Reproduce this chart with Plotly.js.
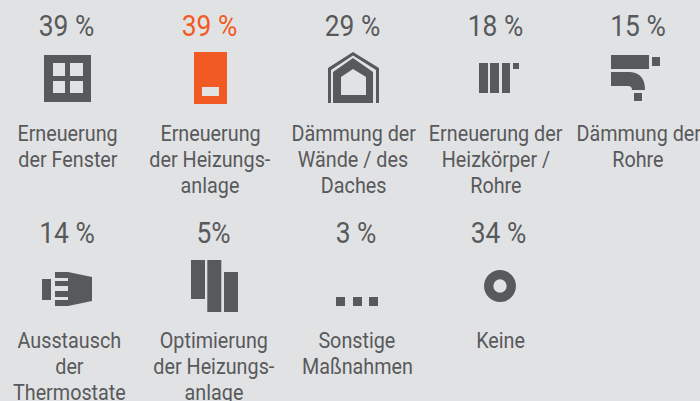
<!DOCTYPE html>
<html><head><meta charset="utf-8">
<script src="https://cdn.plot.ly/plotly-3.0.1.min.js"></script>
<style>html,body{margin:0;padding:0;background:#e1e2e4}</style></head>
<body><div id="chart" style="width:700px;height:401px"></div>
<script>
const categories=["Erneuerung<br>der Fenster","Erneuerung<br>der Heizungs-<br>anlage","Dämmung der<br>Wände / des<br>Daches","Erneuerung der<br>Heizkörper /<br>Rohre","Dämmung der<br>Rohre","Ausstausch<br>der<br>Thermostate","Optimierung<br>der Heizungs-<br>anlage","Sonstige<br>Maßnahmen","Keine"];
const valueLabels=["39 %","39 %","29 %","18 %","15 %","14 %","5%","3 %","34 %"];
const dark="#58595b",orange="#f15a22",bg="#e1e2e4";
const pctX=[66.5,209.5,352.5,495.5,638,67,213.5,356,498.5];
const pctY=[28.5,28.5,28.5,28.5,28.5,236,236,236,236];
const labX=[67.5,210,353,495.5,638,69,214,357,500];
const labY=[133,133,133,133,133,340,340,340,340];
const lineGap=26;
const font="Roboto,sans-serif";
function rect(x0,y0,x1,y1,c){return {type:'rect',xref:'x',yref:'y',x0,y0,x1,y1,fillcolor:c||dark,line:{width:0}};}
function path(d,c){return {type:'path',xref:'x',yref:'y',path:d,fillcolor:c||dark,line:{width:0}};}
const shapes=[
 rect(44,55,91,102),rect(53,63,65,76,bg),rect(70,63,83,76,bg),rect(53,81,65,93,bg),rect(70,81,83,93,bg),
 rect(194,52,227,104,orange),rect(202,87,219,96,bg),
 path("M328 103 L328 68 L353 52 L379 68 L379 103 L376 103 L376 70 L353 55.5 L331 70 L331 103 Z"),
 path("M333 103 L333 72 L353 58 L373 72 L373 103 Z M341 95 L366 95 L366 77 L353 69 L341 77 Z"),
 rect(479,63,488,93),rect(490,63,499,93),rect(502,63,510,93),rect(513,63,519,69),
 rect(611,55,649,69),rect(652,57,660,66),
 path("M611 72 L630 72 Q645 73 645 90 L632 90 Q632 86 628 86 L611 86 Z"),rect(634,93,642,101),
 rect(42,279,51,300),
 path("M55 272 L68 272 L92 277 L92 301 L68 306 L55 306 Z"),rect(55,278,68,281,bg),rect(55,286,68,291,bg),rect(55,297,68,300,bg),
 rect(191,260,205,299),rect(207.3,260,221.3,312),rect(224,272,238,312),
 rect(336,297,345,306),rect(353,297,362,306),rect(369,297,378,306),
 {type:'circle',xref:'x',yref:'y',x0:488.7,y0:274.7,x1:511.3,y1:297.3,fillcolor:'rgba(0,0,0,0)',line:{color:dark,width:9.3}}
];
const traces=[
 {type:'scatter',mode:'text',x:pctX,y:pctY,text:valueLabels,textposition:'middle center',hoverinfo:'skip',
  textfont:{family:font,size:29,color:valueLabels.map((v,i)=>i===1?orange:dark)}},
];
const annotations=[];
categories.forEach((t,i)=>t.split('<br>').forEach((line,j)=>annotations.push({xref:'x',yref:'y',x:labX[i],y:labY[i]+j*lineGap,text:line,showarrow:false,yanchor:'middle',xanchor:'center',font:{family:font,size:21.5,color:dark}})));
Plotly.newPlot('chart',traces,{width:700,height:401,margin:{l:0,r:0,t:0,b:0},paper_bgcolor:bg,plot_bgcolor:bg,showlegend:false,
 xaxis:{range:[0,700],visible:false,fixedrange:true},yaxis:{range:[401,0],visible:false,fixedrange:true},shapes,annotations},{displayModeBar:false,staticPlot:true}).then(()=>{
  const squeeze=(sel,s)=>document.querySelectorAll(sel).forEach(el=>{
    const b=el.getBBox(),cx=b.x+b.width/2,old=el.getAttribute('transform')||'';
    el.setAttribute('transform',`${old} translate(${cx},0) scale(${s},1) translate(${-cx},0)`);
  });
  squeeze('.annotation-text',0.92);
  squeeze('.textpoint text',0.91);
});
</script></body></html>
